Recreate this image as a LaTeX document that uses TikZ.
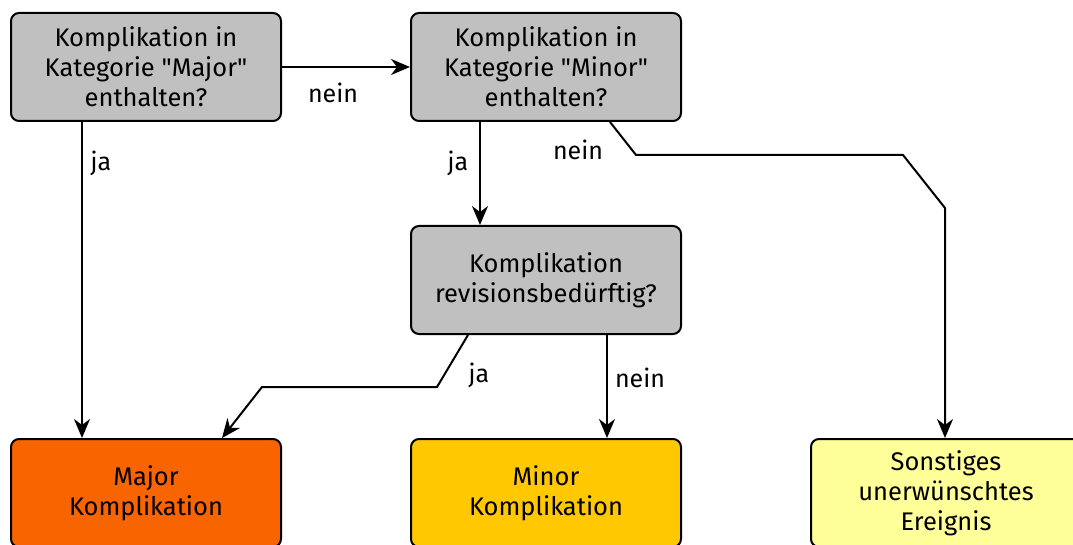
\documentclass[tikz,border=0pt]{standalone}
\usepackage{fontspec}
\setmainfont{Fira Sans}
\usetikzlibrary{arrows.meta,positioning}
\definecolor{qgray}{RGB}{192,192,192}
\definecolor{majorcol}{RGB}{248,100,0}
\definecolor{minorcol}{RGB}{255,200,0}
\definecolor{othercol}{RGB}{255,255,153}
\tikzset{
  box/.style={draw=black, line width=2pt, rounded corners=8pt, minimum width=270pt,
              align=center, font=\fontsize{25.5}{30}\selectfont, inner sep=0pt},
  question/.style={box, fill=qgray, minimum height=108pt},
  result/.style={box, minimum height=108pt},
  arr/.style={line width=2pt, -{Stealth[length=19pt,width=16pt,inset=6pt]}},
  lbl/.style={font=\fontsize{25}{28}\selectfont, inner sep=1pt}
}
\begin{document}
\begin{tikzpicture}[x=1pt,y=-1pt]
  \useasboundingbox (0,0) rectangle (1073,545);

  % Fragen
  \node[question] (qmajor) at (146,67) {Komplikation in\\Kategorie \textquotedbl Major\textquotedbl\\enthalten?};
  \node[question] (qminor) at (546,67) {Komplikation in\\Kategorie \textquotedbl Minor\textquotedbl\\enthalten?};
  \node[question] (crev) at (546,280) {Komplikation\\revisionsbedürftig?};

  % Ergebnisse
  \node[result, fill=majorcol] (rmajor) at (146,493) {Major\\Komplikation};
  \node[result, fill=minorcol] (rminor) at (546,493) {Minor\\Komplikation};
  \node[result, fill=othercol, anchor=north west] (rother) at (810,438) {Sonstiges\\unerwünschtes\\Ereignis};

  % Knickpunkte
  \coordinate (k1) at (636,155);
  \coordinate (k2) at (903,155);
  \coordinate (k3) at (945,208);
  \coordinate (k4) at (437,387);
  \coordinate (k5) at (262,387);

  \draw[arr] (qmajor.east) -- (qminor.west);
  \node[lbl] (n1) at (333,93) {nein};

  \draw[arr] ([xshift=-64pt]qmajor.south) -- ([xshift=-64pt]rmajor.north);
  \node[lbl] (j1) at (101,163) {ja};

  \draw[arr] ([xshift=-66pt]qminor.south) -- ([xshift=-66pt]crev.north);
  \node[lbl] (j2) at (458,163) {ja};

  \draw[arr] ([xshift=64pt]qminor.south) -- (k1) -- (k2) -- (k3) -- (k3 |- rother.north);
  \node[lbl] (n2) at (578,150) {nein};

  \draw[arr] ([xshift=-78pt]crev.south) -- (k4) -- (k5) -- ([xshift=76pt]rmajor.north);
  \node[lbl] (j3) at (479,375) {ja};

  \draw[arr] ([xshift=61pt]crev.south) -- ([xshift=61pt]rminor.north);
  \node[lbl] (n3) at (640,378) {nein};
\end{tikzpicture}
\end{document}
